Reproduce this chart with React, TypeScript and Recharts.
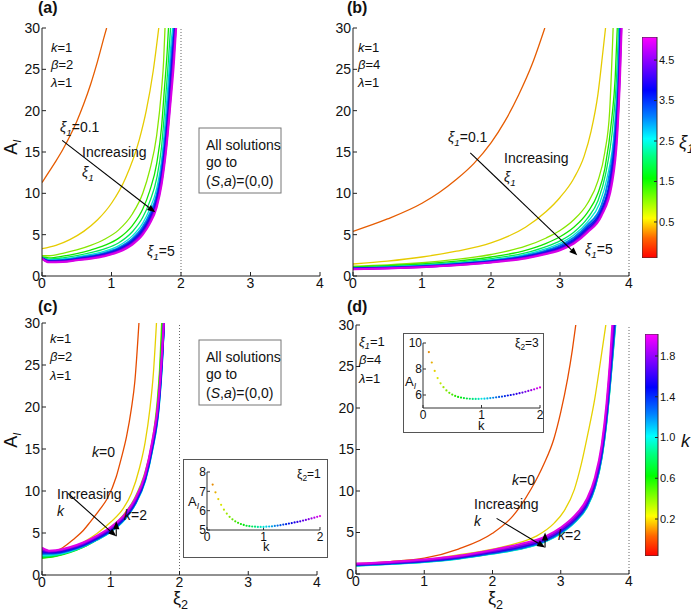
import React from 'react';
import { LineChart, Line, XAxis, YAxis, ReferenceLine, ScatterChart, Scatter, BarChart, Bar } from 'recharts';

// ---------------- DATA ----------------
// Panel (a): k=1, beta=2, lambda=1 ; curves for xi1 values  [xi2, A_I]
const xi1Values = [0.1, 0.5, 1, 1.5, 2, 2.5, 3, 3.5, 4, 4.5, 5];
const a_01 = [[0,11.3],[0.1,12.6],[0.2,13.9],[0.3,15.3],[0.4,16.9],[0.5,18.7],[0.6,20.8],[0.7,23.2],[0.8,26],[0.9,29.1],[0.93,30]];
const a_05 = [[0,3.3],[0.2,3.7],[0.4,4.4],[0.6,5.4],[0.8,6.8],[1.0,8.8],[1.2,11.8],[1.4,16.5],[1.5,20],[1.6,24.8],[1.68,30]];
const a_10 = [[0,2.45],[0.1,2.45],[0.3,2.75],[0.5,3.15],[0.7,3.7],[0.9,4.45],[1.1,5.55],[1.3,7.5],[1.45,10],[1.55,12.8],[1.65,17],[1.72,22.5],[1.75,26],[1.77,30]];
const a_15 = [[0,2.3],[0.1,2.2],[0.3,2.4],[0.5,2.72],[0.7,3.14],[0.9,3.7],[1.1,4.55],[1.3,6.1],[1.45,8.1],[1.55,10.3],[1.65,13.6],[1.72,18],[1.76,22.5],[1.8,27],[1.82,30]];
const a_20 = [[0,2.23],[0.1,2.05],[0.3,2.2],[0.5,2.47],[0.7,2.82],[0.9,3.28],[1.1,4.0],[1.3,5.35],[1.45,7.1],[1.55,9.0],[1.65,11.8],[1.72,15.6],[1.76,19.5],[1.81,25],[1.85,30]];
const a_25 = [[0,2.2],[0.1,1.95],[0.3,2.06],[0.5,2.3],[0.7,2.6],[0.9,3.0],[1.1,3.65],[1.3,4.85],[1.45,6.4],[1.55,8.1],[1.65,10.6],[1.72,14],[1.77,18.5],[1.82,24],[1.86,28.5],[1.88,30]];
const a_30 = [[0,2.18],[0.1,1.87],[0.3,1.95],[0.5,2.17],[0.7,2.44],[0.9,2.8],[1.1,3.4],[1.3,4.5],[1.45,5.95],[1.55,7.5],[1.65,9.8],[1.72,13],[1.78,17.5],[1.83,23],[1.87,27.5],[1.9,30]];
const a_35 = [[0,2.16],[0.1,1.8],[0.3,1.87],[0.5,2.08],[0.7,2.33],[0.9,2.67],[1.1,3.24],[1.3,4.28],[1.45,5.65],[1.55,7.1],[1.65,9.3],[1.72,12.3],[1.78,16.5],[1.84,22.5],[1.88,27],[1.91,30]];
const a_40 = [[0,2.14],[0.1,1.75],[0.3,1.8],[0.5,2.0],[0.7,2.24],[0.9,2.56],[1.1,3.1],[1.3,4.1],[1.45,5.4],[1.55,6.8],[1.65,8.9],[1.72,11.8],[1.78,15.8],[1.84,21.5],[1.885,26.5],[1.918,30]];
const a_45 = [[0,2.12],[0.1,1.7],[0.3,1.75],[0.5,1.95],[0.7,2.17],[0.9,2.48],[1.1,3.0],[1.3,3.95],[1.45,5.2],[1.55,6.55],[1.65,8.6],[1.72,11.4],[1.79,16],[1.85,21.7],[1.89,26],[1.925,30]];
const a_50 = [[0,2.1],[0.1,1.65],[0.3,1.7],[0.5,1.9],[0.7,2.1],[0.9,2.4],[1.1,2.9],[1.3,3.8],[1.45,5.0],[1.55,6.3],[1.65,8.3],[1.72,11],[1.79,15.5],[1.85,21],[1.9,26],[1.93,30]];

// Panel (b): k=1, beta=4, lambda=1
const b_01 = [[0,5.4],[0.5,6.9],[1,8.8],[1.25,10.1],[1.5,11.7],[1.75,13.6],[2.0,16.1],[2.2,18.7],[2.4,21.9],[2.6,25.7],[2.78,30]];
const b_05 = [[0,1.45],[0.5,1.8],[1,2.3],[1.5,3.0],[2,4.0],[2.5,5.9],[2.8,7.8],[3.0,9.5],[3.2,11.8],[3.35,14.5],[3.45,17.5],[3.55,22],[3.62,27],[3.66,30]];
const b_10 = [[0,1.2],[0.5,1.35],[1,1.6],[1.5,2.0],[2,2.6],[2.5,3.6],[2.8,4.6],[3.0,5.5],[3.2,6.8],[3.4,8.8],[3.55,11.5],[3.65,15],[3.72,20],[3.77,30]];
const b_15 = [[0,1.1],[0.5,1.25],[1,1.45],[1.5,1.8],[2,2.3],[2.5,3.1],[2.8,3.95],[3.0,4.75],[3.2,5.9],[3.4,7.7],[3.55,10],[3.65,13],[3.75,19],[3.8,24],[3.83,30]];
const b_20 = [[0,1.02],[0.5,1.15],[1,1.35],[1.5,1.65],[2,2.1],[2.5,2.8],[2.8,3.55],[3.0,4.25],[3.2,5.3],[3.4,7.0],[3.55,9.1],[3.66,12.3],[3.77,18.5],[3.82,24],[3.85,30]];
const b_25 = [[0,0.97],[0.5,1.08],[1,1.27],[1.5,1.55],[2,1.95],[2.5,2.6],[2.8,3.3],[3.0,3.95],[3.2,4.95],[3.4,6.55],[3.57,8.7],[3.68,11.8],[3.79,18],[3.835,24],[3.86,30]];
const b_30 = [[0,0.93],[0.5,1.03],[1,1.2],[1.5,1.47],[2,1.85],[2.5,2.45],[2.8,3.1],[3.0,3.7],[3.2,4.65],[3.4,6.2],[3.59,8.3],[3.7,11.5],[3.8,17.8],[3.845,24],[3.87,30]];
const b_35 = [[0,0.9],[0.5,1.0],[1,1.16],[1.5,1.42],[2,1.78],[2.5,2.35],[2.8,2.95],[3.0,3.5],[3.2,4.4],[3.4,5.9],[3.6,8.0],[3.72,11.3],[3.81,17.5],[3.855,24],[3.878,30]];
const b_40 = [[0,0.87],[0.5,0.97],[1,1.12],[1.5,1.37],[2,1.72],[2.5,2.27],[2.8,2.83],[3.0,3.35],[3.2,4.2],[3.4,5.65],[3.6,7.7],[3.73,11.2],[3.82,17.3],[3.86,24],[3.884,30]];
const b_45 = [[0,0.84],[0.5,0.94],[1,1.09],[1.5,1.33],[2,1.67],[2.5,2.2],[2.8,2.74],[3.0,3.22],[3.2,4.05],[3.4,5.45],[3.6,7.45],[3.74,11.1],[3.825,17.2],[3.865,24],[3.888,30]];
const b_50 = [[0,0.82],[0.5,0.92],[1,1.06],[1.5,1.3],[2,1.63],[2.5,2.13],[2.8,2.66],[3.0,3.12],[3.2,3.92],[3.4,5.3],[3.6,7.25],[3.75,11],[3.83,17],[3.87,24],[3.893,30]];

// Panel (c): k values, beta=2
const kValuesC = [0, 0.2, 0.4, 0.6, 0.8, 1.0, 1.2, 1.4, 1.6, 1.8, 2.0];
const c_00 = [[0.22,2.9],[0.3,3.25],[0.45,4.2],[0.6,5.3],[0.7,6.3],[0.85,7.9],[0.95,9.1],[1.08,11.7],[1.15,13.8],[1.23,16.5],[1.3,19.8],[1.35,23],[1.41,30]];
const c_02 = [[0,2.4],[0.2,2.6],[0.4,3.1],[0.6,3.9],[0.8,4.95],[1.0,6.3],[1.18,7.9],[1.3,9.7],[1.42,12.8],[1.5,15.8],[1.57,19.8],[1.62,24],[1.665,30]];
const c_04 = [[0,2.0],[0.2,2.25],[0.4,2.75],[0.6,3.5],[0.8,4.5],[1.0,5.68],[1.2,7.3],[1.35,9.2],[1.5,12.3],[1.6,15.8],[1.67,20.2],[1.71,24.5],[1.74,30]];
const c_06 = [[0,2.05],[0.2,2.25],[0.4,2.7],[0.6,3.35],[0.8,4.25],[1.0,5.31],[1.2,6.85],[1.35,8.7],[1.5,11.7],[1.6,15.2],[1.68,20],[1.725,25],[1.755,30]];
const c_08 = [[0,2.2],[0.2,2.35],[0.4,2.75],[0.6,3.35],[0.8,4.2],[1.0,5.18],[1.2,6.65],[1.35,8.45],[1.5,11.4],[1.6,14.9],[1.69,20],[1.735,25],[1.765,30]];
const c_10 = [[0,2.35],[0.2,2.45],[0.4,2.8],[0.6,3.4],[0.8,4.2],[1.0,5.16],[1.2,6.6],[1.35,8.35],[1.5,11.2],[1.6,14.7],[1.7,20],[1.745,25],[1.775,30]];
const c_12 = [[0,2.5],[0.2,2.55],[0.4,2.9],[0.6,3.45],[0.8,4.25],[1.0,5.21],[1.2,6.65],[1.35,8.4],[1.5,11.3],[1.6,14.8],[1.7,20.2],[1.745,25.2],[1.775,30]];
const c_14 = [[0,2.65],[0.2,2.65],[0.4,2.98],[0.6,3.53],[0.8,4.32],[1.0,5.3],[1.2,6.75],[1.35,8.5],[1.5,11.4],[1.6,15],[1.7,20.4],[1.745,25.5],[1.775,30]];
const c_16 = [[0,2.8],[0.1,2.7],[0.2,2.75],[0.4,3.08],[0.6,3.63],[0.8,4.43],[1.0,5.42],[1.2,6.88],[1.35,8.65],[1.5,11.6],[1.6,15.2],[1.7,20.7],[1.745,25.8],[1.775,30]];
const c_18 = [[0,3.0],[0.1,2.8],[0.2,2.85],[0.4,3.2],[0.6,3.75],[0.8,4.56],[1.0,5.56],[1.2,7.03],[1.35,8.8],[1.5,11.8],[1.6,15.5],[1.7,21],[1.745,26.1],[1.775,30]];
const c_20 = [[0,3.25],[0.1,2.9],[0.2,2.95],[0.4,3.3],[0.6,3.87],[0.8,4.7],[1.0,5.72],[1.2,7.2],[1.35,9.0],[1.5,12.0],[1.6,15.8],[1.7,21.4],[1.745,26.5],[1.77,30]];

// Panel (d): xi1=1, beta=4
const kValuesD = [0, 0.2, 0.4, 0.7, 1.0, 1.3, 1.6, 1.8, 2.0];
const d_00 = [[0,1.25],[0.5,1.5],[1,1.9],[1.5,3.0],[2,4.9],[2.3,7.0],[2.57,10.3],[2.75,13.2],[2.9,16.3],[3.0,19.5],[3.1,23.5],[3.17,27],[3.22,30]];
const d_02 = [[0,1.15],[1,1.7],[1.5,2.3],[2,3.0],[2.4,3.8],[2.65,4.6],[2.9,6.1],[3.05,7.6],[3.2,10.2],[3.3,13.2],[3.4,17.0],[3.5,21.2],[3.58,25.5],[3.66,30]];
const d_04 = [[0,1.19],[0.5,1.39],[1,1.67],[1.5,2.11],[2,2.78],[2.4,3.44],[2.77,4.34],[3.0,5.42],[3.2,6.79],[3.38,8.74],[3.5,11.29],[3.6,15.18],[3.67,19.93],[3.72,25],[3.765,30]];
const d_07 = [[0,1.02],[0.5,1.22],[1,1.47],[1.5,1.87],[2,2.48],[2.4,3.04],[2.77,3.94],[3.0,4.94],[3.2,6.25],[3.38,8.06],[3.5,10.47],[3.6,14.1],[3.67,18.43],[3.73,23.6],[3.797,30]];
const d_10 = [[0,1.0],[0.5,1.2],[1,1.45],[1.5,1.85],[2,2.45],[2.4,3.0],[2.77,3.9],[3.0,4.9],[3.2,6.2],[3.38,8.0],[3.5,10.4],[3.6,14.0],[3.67,18.3],[3.73,23.5],[3.8,30]];
const d_13 = [[0,1.04],[0.5,1.24],[1,1.5],[1.5,1.9],[2,2.52],[2.4,3.09],[2.77,3.99],[3.0,5.01],[3.2,6.32],[3.38,8.15],[3.5,10.58],[3.6,14.24],[3.67,18.63],[3.73,23.8],[3.793,30]];
const d_16 = [[0,1.11],[0.5,1.31],[1,1.58],[1.5,2.0],[2,2.65],[2.4,3.26],[2.77,4.16],[3.0,5.21],[3.2,6.55],[3.38,8.44],[3.5,10.93],[3.6,14.7],[3.67,19.27],[3.725,24.4],[3.78,30]];
const d_18 = [[0,1.17],[0.5,1.37],[1,1.66],[1.5,2.09],[2,2.76],[2.4,3.41],[2.77,4.31],[3.0,5.38],[3.2,6.75],[3.38,8.69],[3.5,11.23],[3.6,15.1],[3.67,19.82],[3.722,24.9],[3.77,30]];
const d_20 = [[0,1.25],[0.5,1.45],[1,1.75],[1.5,2.2],[2,2.9],[2.4,3.6],[2.77,4.5],[3.0,5.6],[3.2,7.0],[3.38,9.0],[3.5,11.6],[3.6,15.6],[3.67,20.5],[3.72,25.5],[3.755,30]];

// Insets: A_I vs k
const insetK = [0.1,0.15,0.2,0.25,0.3,0.35,0.4,0.45,0.5,0.55,0.6,0.65,0.7,0.75,0.8,0.85,0.9,0.95,1.0,1.05,1.1,1.15,1.2,1.25,1.3,1.35,1.4,1.45,1.5,1.55,1.6,1.65,1.7,1.75,1.8,1.85,1.9,1.95,2.0];
const insetC = [7.35,6.95,6.6,6.3,6.05,5.85,5.68,5.55,5.45,5.37,5.31,5.26,5.22,5.2,5.18,5.17,5.16,5.16,5.16,5.17,5.18,5.19,5.21,5.23,5.25,5.28,5.3,5.33,5.36,5.39,5.42,5.45,5.49,5.52,5.56,5.6,5.64,5.68,5.72];
const insetD = [9.3,8.5,7.85,7.3,6.9,6.6,6.35,6.17,6.03,5.93,5.85,5.8,5.76,5.73,5.71,5.7,5.7,5.7,5.71,5.72,5.74,5.76,5.79,5.82,5.85,5.88,5.92,5.96,6.0,6.04,6.09,6.14,6.19,6.25,6.31,6.37,6.44,6.51,6.58];

// Axis ticks
const xTicks = [0, 1, 2, 3, 4];
const yTicks = [0, 5, 10, 15, 20, 25, 30];
const cbTicksXi = [0.5, 1.5, 2.5, 3.5, 4.5];
const cbTicksK = [0.2, 0.6, 1.0, 1.4, 1.8];
const cbRangeXi = [-0.39, 5.07];
const cbRangeK = [-0.163, 2.016];

// ---------------- STYLE HELPERS ----------------
const FONT = '"Liberation Sans", Arial, Helvetica, sans-serif';
const CMAP: [number, number[]][] = [
  [0, [255, 0, 0]], [0.09, [255, 102, 0]], [0.18, [255, 255, 0]], [0.27, [128, 255, 0]],
  [0.36, [0, 255, 0]], [0.46, [0, 255, 128]], [0.54, [0, 255, 255]], [0.64, [0, 128, 255]],
  [0.76, [0, 0, 255]], [0.88, [128, 0, 255]], [1, [255, 0, 255]],
];
function cmap(t: number, dark = 1): string {
  const tt = Math.max(0, Math.min(1, t));
  for (let i = 0; i < CMAP.length - 1; i++) {
    const [t0, c0] = CMAP[i];
    const [t1, c1] = CMAP[i + 1];
    if (tt >= t0 && tt <= t1) {
      const f = (tt - t0) / (t1 - t0);
      const c = c0.map((v, j) => Math.round((v + (c1[j] - v) * f) * dark));
      return `rgb(${c[0]},${c[1]},${c[2]})`;
    }
  }
  return 'rgb(255,0,255)';
}
const xiColor = (v: number) => cmap((v - cbRangeXi[0]) / (cbRangeXi[1] - cbRangeXi[0]), 0.9);
const kColor = (v: number) => cmap((v - cbRangeK[0]) / (cbRangeK[1] - cbRangeK[0]), 0.9);

const toPts = (arr: number[][]) => arr.map(([x, y]) => ({ x, y }));

type Curve = { pts: { x: number; y: number }[]; color: string; w: number };
type Arrow = { from: [number, number]; to: [number, number] };

const arrowShape = (p: any) => {
  const { x1, y1, x2, y2 } = p;
  if ([x1, y1, x2, y2].some((v) => typeof v !== 'number' || isNaN(v))) return <g />;
  const ang = Math.atan2(y2 - y1, x2 - x1);
  const L = 8, W = 3.2;
  const bx = x2 - L * Math.cos(ang), by = y2 - L * Math.sin(ang);
  const pA = `${bx + W * Math.sin(ang)},${by - W * Math.cos(ang)}`;
  const pB = `${bx - W * Math.sin(ang)},${by + W * Math.cos(ang)}`;
  return (
    <g>
      <line x1={x1} y1={y1} x2={bx} y2={by} stroke="#000" strokeWidth={1.1} />
      <polygon points={`${x2},${y2} ${pA} ${pB}`} fill="#000" />
    </g>
  );
};

const tickStyle = { fill: '#111', fontSize: 14, fontFamily: FONT };

function Panel(props: {
  left: number; top: number; width: number; height: number;
  margin: { top: number; right: number; bottom: number; left: number };
  yW: number; xH: number; curves: Curve[]; vline: number; arrows: Arrow[];
}) {
  const { left, top, width, height, margin, yW, xH, curves, vline, arrows } = props;
  return (
    <div style={{ position: 'absolute', left, top }}>
      <LineChart width={width} height={height} margin={margin}>
        <XAxis type="number" dataKey="x" domain={[0, 4]} ticks={xTicks} interval={0} allowDataOverflow
          height={xH} tickSize={-4} tickMargin={6} stroke="#222" tick={tickStyle} />
        <YAxis type="number" dataKey="y" domain={[0, 30]} ticks={yTicks} interval={0} allowDataOverflow
          width={yW} tickSize={-4} tickMargin={6} stroke="#222" tick={tickStyle} />
        <ReferenceLine x={vline} stroke="#666" strokeDasharray="1 2" strokeWidth={1} />
        {curves.map((c, i) => (
          <Line key={i} data={c.pts} dataKey="y" type="monotone" stroke={c.color} strokeWidth={c.w}
            dot={false} activeDot={false} isAnimationActive={false} />
        ))}
        {arrows.map((a, i) => (
          <ReferenceLine key={'ar' + i} segment={[{ x: a.from[0], y: a.from[1] }, { x: a.to[0], y: a.to[1] }]}
            shape={arrowShape} ifOverflow="visible" />
        ))}
      </LineChart>
    </div>
  );
}

function Inset(props: { left: number; top: number; width: number; height: number; margin: any; yW: number; xH: number; ydom: number[]; yt: number[]; vals: number[] }) {
  const { left, top, width, height, margin, yW, xH, ydom, yt, vals } = props;
  const pts = insetK.map((k, i) => ({ x: k, y: vals[i] }));
  const st = { fill: '#111', fontSize: 12, fontFamily: FONT };
  return (
    <>
      <div style={{ position: 'absolute', left, top, width, height, boxSizing: 'border-box', border: '1px solid #555', background: '#fff' }} />
      <div style={{ position: 'absolute', left, top }}>
        <ScatterChart width={width} height={height} margin={margin}>
          <XAxis type="number" dataKey="x" domain={[0, 2]} ticks={[0, 1, 2]} interval={0} height={xH}
            tickSize={-3} tickMargin={5} stroke="#333" tick={st} />
          <YAxis type="number" dataKey="y" domain={ydom} ticks={yt} interval={0} width={yW}
            tickSize={-3} tickMargin={4} stroke="#333" tick={st} />
          <Scatter data={pts} isAnimationActive={false}
            shape={(p: any) => <circle cx={p.cx} cy={p.cy} r={1.1} fill={kColor(p.payload.x)} />} />
        </ScatterChart>
      </div>
    </>
  );
}

function ColorBar(props: { left: number; top: number; width: number; height: number; barW: number; range: number[]; ticks: number[]; name: string }) {
  const { left, top, width, height, barW, range, ticks, name } = props;
  const data = [{ name, span: range }];
  return (
    <div style={{ position: 'absolute', left, top }}>
      <BarChart width={width} height={height} data={data} margin={{ top: 10, right: 0, bottom: 10, left: 0 }}
        barCategoryGap={0} barGap={0}>
        <XAxis dataKey="name" type="category" hide />
        <YAxis orientation="right" type="number" domain={range} ticks={ticks} interval={0} width={width - barW}
          allowDataOverflow tickSize={-3} tickMargin={5} axisLine={false} stroke="#222"
          tick={{ fill: '#111', fontSize: 11, fontFamily: FONT }} tickFormatter={(v: number) => v.toFixed(1)} />
        <Bar dataKey="span" fill="url(#cbgrad)" stroke="#333" strokeWidth={1} isAnimationActive={false} />
      </BarChart>
    </div>
  );
}

// text helpers
const T = (p: { x: number; y: number; fs?: number; children: any; anchor?: string; bold?: boolean; italic?: boolean }) => (
  <text x={p.x} y={p.y} fontSize={p.fs || 14} fontFamily={FONT} textAnchor={p.anchor || 'start'}
    fontWeight={p.bold ? 'bold' : 'normal'} fontStyle={p.italic ? 'italic' : 'normal'} fill="#111">{p.children}</text>
);
const Xi = (p: { x: number; y: number; sub: string; rest?: string; fs?: number; italic?: boolean }) => {
  const fs = p.fs || 14;
  const it = p.italic === false ? 'normal' : 'italic';
  return (
    <text x={p.x} y={p.y} fontSize={fs} fontFamily={FONT} fill="#111">
      <tspan fontStyle={it}>ξ</tspan>
      <tspan fontStyle={it} fontSize={fs * 0.7} dy={fs * 0.25}>{p.sub}</tspan>
      {p.rest ? <tspan dy={-fs * 0.25}>{p.rest}</tspan> : null}
    </text>
  );
};
const Param = (p: { x: number; y: number; sym: string; val: string; fs?: number }) => (
  <text x={p.x} y={p.y} fontSize={p.fs || 13} fontFamily={FONT} fill="#111">
    <tspan fontStyle="italic">{p.sym}</tspan><tspan>{p.val}</tspan>
  </text>
);
const AI = (p: { x: number; y: number; fs: number; rot?: boolean }) => (
  <text x={p.rot ? 0 : p.x} y={p.rot ? 0 : p.y} transform={p.rot ? `translate(${p.x},${p.y}) rotate(-90)` : undefined}
    textAnchor={p.rot ? 'middle' : 'start'} fontSize={p.fs} fontFamily={FONT} fill="#111">
    A<tspan fontSize={p.fs * 0.65} dy={p.fs * 0.22} fontStyle="italic">I</tspan>
  </text>
);
const SolBox = (p: { x: number; y: number }) => (
  <g>
    <rect x={p.x} y={p.y} width={82} height={65} fill="#fff" stroke="#777" strokeWidth={1} />
    <T x={p.x + 7} y={p.y + 22}>All solutions</T>
    <T x={p.x + 7} y={p.y + 39}>go to</T>
    <text x={p.x + 7} y={p.y + 58} fontSize={14} fontFamily={FONT} fill="#111">
      (<tspan fontStyle="italic">S</tspan>,<tspan fontStyle="italic">a</tspan>)=(0,0)
    </text>
  </g>
);

export default function App() {
  const aArr = [a_01, a_05, a_10, a_15, a_20, a_25, a_30, a_35, a_40, a_45, a_50];
  const bArr = [b_01, b_05, b_10, b_15, b_20, b_25, b_30, b_35, b_40, b_45, b_50];
  const cArr = [c_00, c_02, c_04, c_06, c_08, c_10, c_12, c_14, c_16, c_18, c_20];
  const dArr = [d_00, d_02, d_04, d_07, d_10, d_13, d_16, d_18, d_20];
  const aCurves: Curve[] = aArr.map((d, i) => ({ pts: toPts(d), color: xiColor(xi1Values[i]), w: i >= 6 ? 2 : 1.3 }));
  const bCurves: Curve[] = bArr.map((d, i) => ({ pts: toPts(d), color: xiColor(xi1Values[i]), w: i >= 6 ? 2 : 1.3 }));
  const cCurves: Curve[] = cArr.map((d, i) => ({ pts: toPts(d), color: kColor(kValuesC[i]), w: i >= 3 ? 2 : 1.3 }));
  const dCurves: Curve[] = dArr.map((d, i) => ({ pts: toPts(d), color: kColor(kValuesD[i]), w: i >= 3 ? 2 : 1.3 }));

  return (
    <div style={{ position: 'absolute', left: 0, top: 0, width: 691, height: 612, background: '#fff', overflow: 'hidden' }}>
      <svg width={0} height={0} style={{ position: 'absolute' }}>
        <defs>
          <linearGradient id="cbgrad" x1="0" y1="1" x2="0" y2="0">
            {CMAP.map(([t, c], i) => <stop key={i} offset={t} stopColor={`rgb(${c[0]},${c[1]},${c[2]})`} />)}
          </linearGradient>
        </defs>
      </svg>

      <Panel left={0} top={0} width={345} height={300} margin={{ top: 28, right: 25, bottom: 0, left: 0 }}
        yW={42} xH={24} curves={aCurves} vline={2}
        arrows={[{ from: [0.29, 16.4], to: [1.63, 7.7] }]} />
      <Panel left={310} top={0} width={335} height={300} margin={{ top: 28, right: 16, bottom: 0, left: 0 }}
        yW={43} xH={24} curves={bCurves} vline={4}
        arrows={[{ from: [1.7, 14.9], to: [3.25, 2.5] }]} />
      <Panel left={0} top={300} width={345} height={300} margin={{ top: 23, right: 28, bottom: 0, left: 0 }}
        yW={42} xH={25} curves={cCurves} vline={2}
        arrows={[{ from: [0.38, 9.7], to: [1.08, 4.6] }, { from: [1.08, 4.6], to: [1.08, 6.4] }]} />
      <Panel left={310} top={300} width={335} height={300} margin={{ top: 25, right: 16, bottom: 0, left: 0 }}
        yW={46} xH={26} curves={dCurves} vline={4}
        arrows={[{ from: [2.06, 6.7], to: [2.77, 3.2] }, { from: [2.77, 3.2], to: [2.77, 5.0] }]} />

      <Inset left={183} top={459} width={145} height={99} margin={{ top: 13, right: 8, bottom: 0, left: 0 }}
        yW={24} xH={28} ydom={[5, 8]} yt={[5, 6, 7, 8]} vals={insetC} />
      <Inset left={403} top={333} width={141} height={100} margin={{ top: 10, right: 4, bottom: 0, left: 0 }}
        yW={20} xH={25} ydom={[5, 10]} yt={[6, 8, 10]} vals={insetD} />

      <ColorBar left={642} top={27} width={45} height={241} barW={15} range={cbRangeXi} ticks={cbTicksXi} name="xi1" />
      <ColorBar left={645} top={324} width={43} height={242} barW={13} range={cbRangeK} ticks={cbTicksK} name="k" />

      <svg width={691} height={612} style={{ position: 'absolute', left: 0, top: 0, pointerEvents: 'none' }}>
        {/* panel letters */}
        <T x={38} y={13} fs={16} bold>(a)</T>
        <T x={347} y={13} fs={16} bold>(b)</T>
        <T x={38} y={312} fs={16} bold>(c)</T>
        <T x={347} y={312} fs={16} bold>(d)</T>

        {/* parameters */}
        <Param x={51} y={52} sym="k" val="=1" />
        <Param x={51} y={69} sym="β" val="=2" />
        <Param x={51} y={87} sym="λ" val="=1" />
        <Param x={358} y={52} sym="k" val="=1" />
        <Param x={358} y={69} sym="β" val="=4" />
        <Param x={358} y={87} sym="λ" val="=1" />
        <Param x={50} y={343} sym="k" val="=1" />
        <Param x={50} y={361} sym="β" val="=2" />
        <Param x={50} y={380} sym="λ" val="=1" />
        <Xi x={359} y={346} sub="1" rest="=1" fs={13} />
        <Param x={359} y={364} sym="β" val="=4" />
        <Param x={359} y={383} sym="λ" val="=1" />

        {/* panel a annotations */}
        <Xi x={60} y={132} sub="1" rest="=0.1" />
        <T x={82} y={157}>Increasing</T>
        <Xi x={82} y={177} sub="1" />
        <Xi x={147} y={256} sub="1" rest="=5" />
        <SolBox x={199} y={128} />

        {/* panel b annotations */}
        <Xi x={448} y={142} sub="1" rest="=0.1" />
        <T x={504} y={163}>Increasing</T>
        <Xi x={504} y={182} sub="1" />
        <Xi x={585} y={254} sub="1" rest="=5" />
        <Xi x={679} y={148} sub="1" fs={18} />

        {/* panel c annotations */}
        <Param x={92} y={457} sym="k" val="=0" fs={14} />
        <T x={57} y={499}>Increasing</T>
        <T x={57} y={516} italic>k</T>
        <Param x={124} y={520} sym="k" val="=2" fs={14} />
        <SolBox x={199} y={340} />
        <Xi x={297} y={478} sub="2" rest="=1" fs={12} italic={false} />
        <AI x={188} y={506} fs={13} />
        <T x={263} y={551} fs={13}>k</T>
        <Xi x={173} y={604} sub="2" fs={18} italic={false} />

        {/* panel d annotations */}
        <Param x={512} y={485} sym="k" val="=0" fs={14} />
        <T x={474} y={509}>Increasing</T>
        <T x={474} y={526} italic>k</T>
        <Param x={558} y={540} sym="k" val="=2" fs={14} />
        <Xi x={515} y={347} sub="2" rest="=3" fs={12} italic={false} />
        <AI x={405} y={386} fs={13} />
        <T x={478} y={430} fs={13}>k</T>
        <Xi x={488} y={604} sub="2" fs={18} italic={false} />
        <T x={681} y={447} fs={18} italic>k</T>

        {/* y axis titles */}
        <AI x={17} y={147} fs={18} rot />
        <AI x={17} y={440} fs={18} rot />
      </svg>
    </div>
  );
}
